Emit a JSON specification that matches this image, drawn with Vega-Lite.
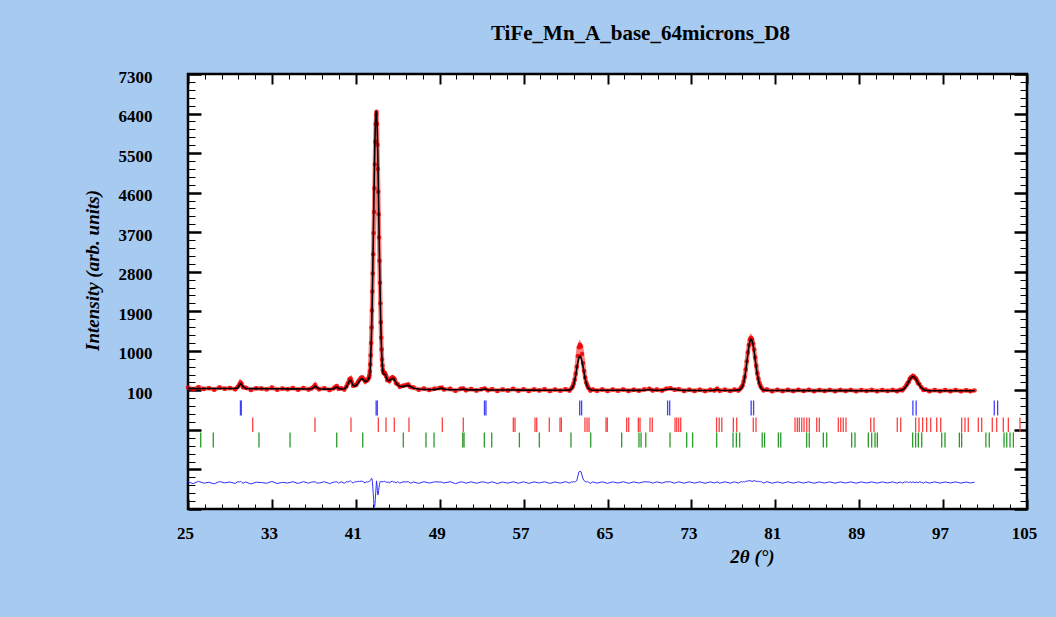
{
  "$schema": "https://vega.github.io/schema/vega-lite/v6.json",
  "width": 839,
  "height": 435,
  "autosize": {"type": "none"},
  "padding": {"left": 188, "top": 74, "right": 29, "bottom": 108},
  "background": "#A6CAF0",
  "config": {"view": {"fill": "white", "stroke": "black", "strokeWidth": 2.5}},
  "title": {"text": "TiFe_Mn_A_base_64microns_D8", "font": "Liberation Serif", "fontSize": 21, "fontWeight": "bold", "color": "black", "anchor": "middle", "dx": 33, "offset": 24},
  "datasets": {
    "pat": [
      {"tt":25.0,"calc":145,"obs":163,"diff":-1982},{"tt":25.5,"calc":145,"obs":123,"diff":-2022},{"tt":26.0,"calc":144,"obs":174,"diff":-1970},{"tt":26.5,"calc":144,"obs":132,"diff":-2012},{"tt":27.0,"calc":143,"obs":151,"diff":-1992},{"tt":27.5,"calc":143,"obs":115,"diff":-2028},{"tt":28.0,"calc":142,"obs":167,"diff":-1975},{"tt":28.5,"calc":142,"obs":137,"diff":-2005},{"tt":29.0,"calc":141,"obs":155,"diff":-1986},{"tt":29.5,"calc":142,"obs":124,"diff":-2018},
      {"tt":29.75,"calc":160,"obs":182,"diff":-1978},{"tt":29.9,"calc":215,"obs":230,"diff":-1985},{"tt":30.0,"calc":250,"obs":278,"diff":-1972},{"tt":30.1,"calc":238,"obs":250,"diff":-1988},{"tt":30.25,"calc":185,"obs":170,"diff":-2015},{"tt":30.5,"calc":145,"obs":160,"diff":-1985},
      {"tt":31.0,"calc":140,"obs":110,"diff":-2030},{"tt":31.5,"calc":139,"obs":149,"diff":-1990},{"tt":32.0,"calc":139,"obs":142,"diff":-1997},{"tt":32.5,"calc":138,"obs":123,"diff":-2015},{"tt":33.0,"calc":137,"obs":164,"diff":-1973},{"tt":33.5,"calc":136,"obs":116,"diff":-2020},{"tt":34.0,"calc":136,"obs":142,"diff":-1994},{"tt":34.5,"calc":135,"obs":127,"diff":-2008},{"tt":35.0,"calc":134,"obs":154,"diff":-1980},{"tt":35.5,"calc":133,"obs":115,"diff":-2018},{"tt":36.0,"calc":132,"obs":154,"diff":-1978},{"tt":36.5,"calc":131,"obs":119,"diff":-2012},
      {"tt":36.8,"calc":135,"obs":150,"diff":-1985},{"tt":37.0,"calc":170,"obs":185,"diff":-1985},{"tt":37.12,"calc":200,"obs":222,"diff":-1978},{"tt":37.25,"calc":175,"obs":168,"diff":-2007},{"tt":37.5,"calc":135,"obs":125,"diff":-2010},{"tt":38.0,"calc":129,"obs":150,"diff":-1979},{"tt":38.5,"calc":128,"obs":106,"diff":-2022},
      {"tt":38.9,"calc":135,"obs":147,"diff":-1988},{"tt":39.05,"calc":165,"obs":180,"diff":-1985},{"tt":39.2,"calc":175,"obs":196,"diff":-1979},{"tt":39.35,"calc":150,"obs":138,"diff":-2012},{"tt":39.6,"calc":128,"obs":148,"diff":-1980},{"tt":39.9,"calc":135,"obs":120,"diff":-2015},
      {"tt":40.1,"calc":170,"obs":190,"diff":-1980},{"tt":40.25,"calc":245,"obs":262,"diff":-1983},{"tt":40.4,"calc":320,"obs":352,"diff":-1968},{"tt":40.5,"calc":330,"obs":368,"diff":-1962},{"tt":40.6,"calc":285,"obs":300,"diff":-1985},{"tt":40.75,"calc":215,"obs":205,"diff":-2010},{"tt":40.9,"calc":195,"obs":215,"diff":-1980},
      {"tt":41.05,"calc":215,"obs":230,"diff":-1985},{"tt":41.2,"calc":260,"obs":290,"diff":-1970},{"tt":41.35,"calc":315,"obs":342,"diff":-1973},{"tt":41.5,"calc":352,"obs":385,"diff":-1967},{"tt":41.62,"calc":362,"obs":392,"diff":-1970},{"tt":41.75,"calc":340,"obs":352,"diff":-1988},{"tt":41.9,"calc":308,"obs":300,"diff":-2008},
      {"tt":42.0,"calc":300,"obs":322,"diff":-1978},{"tt":42.1,"calc":318,"obs":330,"diff":-1988},{"tt":42.2,"calc":350,"obs":372,"diff":-1978},{"tt":42.26,"calc":380,"obs":398,"diff":-1982},{"tt":42.3,"calc":420,"obs":445,"diff":-1975},{"tt":42.34,"calc":500,"obs":530,"diff":-1970},{"tt":42.38,"calc":640,"obs":690,"diff":-1950},{"tt":42.42,"calc":840,"obs":900,"diff":-1940},{"tt":42.46,"calc":1100,"obs":1180,"diff":-1920},{"tt":42.5,"calc":1430,"obs":1530,"diff":-1900},
      {"tt":42.54,"calc":1830,"obs":1920,"diff":-1910},{"tt":42.58,"calc":2320,"obs":2350,"diff":-1970},{"tt":42.62,"calc":2860,"obs":2760,"diff":-2100},{"tt":42.66,"calc":3450,"obs":3200,"diff":-2250},{"tt":42.7,"calc":4070,"obs":3680,"diff":-2390},{"tt":42.74,"calc":4680,"obs":4160,"diff":-2520},{"tt":42.78,"calc":5260,"obs":4700,"diff":-2560},{"tt":42.82,"calc":5750,"obs":5240,"diff":-2510},{"tt":42.86,"calc":6140,"obs":5760,"diff":-2380},{"tt":42.9,"calc":6380,"obs":6160,"diff":-2220},
      {"tt":42.94,"calc":6460,"obs":6370,"diff":-2090},{"tt":42.98,"calc":6400,"obs":6440,"diff":-1960},{"tt":43.02,"calc":6210,"obs":6160,"diff":-2050},{"tt":43.06,"calc":5870,"obs":5690,"diff":-2180},{"tt":43.1,"calc":5420,"obs":5140,"diff":-2280},{"tt":43.14,"calc":4880,"obs":4620,"diff":-2260},{"tt":43.18,"calc":4290,"obs":4110,"diff":-2180},{"tt":43.22,"calc":3680,"obs":3580,"diff":-2100},{"tt":43.26,"calc":3090,"obs":3050,"diff":-2040},{"tt":43.3,"calc":2540,"obs":2550,"diff":-1990},
      {"tt":43.34,"calc":2050,"obs":2080,"diff":-1970},{"tt":43.38,"calc":1630,"obs":1650,"diff":-1980},{"tt":43.42,"calc":1280,"obs":1300,"diff":-1980},{"tt":43.46,"calc":1000,"obs":1030,"diff":-1970},{"tt":43.5,"calc":790,"obs":800,"diff":-1990},{"tt":43.54,"calc":640,"obs":668,"diff":-1972},{"tt":43.58,"calc":540,"obs":560,"diff":-1980},{"tt":43.64,"calc":480,"obs":505,"diff":-1975},{"tt":43.7,"calc":460,"obs":492,"diff":-1968},{"tt":43.76,"calc":465,"obs":495,"diff":-1970},
      {"tt":43.82,"calc":455,"obs":470,"diff":-1985},{"tt":43.9,"calc":400,"obs":420,"diff":-1980},{"tt":44.0,"calc":345,"obs":338,"diff":-2007},{"tt":44.1,"calc":320,"obs":342,"diff":-1978},{"tt":44.2,"calc":325,"obs":315,"diff":-2010},{"tt":44.35,"calc":350,"obs":372,"diff":-1978},{"tt":44.5,"calc":370,"obs":398,"diff":-1972},{"tt":44.6,"calc":368,"obs":380,"diff":-1988},{"tt":44.7,"calc":335,"obs":352,"diff":-1983},{"tt":44.85,"calc":270,"obs":262,"diff":-2008},
      {"tt":45.0,"calc":218,"obs":240,"diff":-1978},{"tt":45.2,"calc":192,"obs":180,"diff":-2012},{"tt":45.5,"calc":186,"obs":205,"diff":-1981},{"tt":45.8,"calc":205,"obs":220,"diff":-1985},{"tt":46.0,"calc":212,"obs":235,"diff":-1977},{"tt":46.2,"calc":190,"obs":178,"diff":-2012},{"tt":46.5,"calc":150,"obs":165,"diff":-1985},{"tt":47.0,"calc":132,"obs":115,"diff":-2017},{"tt":47.5,"calc":120,"obs":142,"diff":-1978},
      {"tt":48.0,"calc":118,"obs":108,"diff":-2010},{"tt":48.5,"calc":117,"obs":135,"diff":-1982},{"tt":49.0,"calc":140,"obs":155,"diff":-1985},{"tt":49.2,"calc":150,"obs":162,"diff":-1988},{"tt":49.4,"calc":128,"obs":120,"diff":-2008},{"tt":50.0,"calc":114,"obs":135,"diff":-1979},{"tt":50.5,"calc":113,"obs":90,"diff":-2023},{"tt":51.0,"calc":118,"obs":136,"diff":-1982},{"tt":51.25,"calc":130,"obs":140,"diff":-1990},{"tt":51.5,"calc":116,"obs":102,"diff":-2014},
      {"tt":52.0,"calc":111,"obs":130,"diff":-1981},{"tt":52.5,"calc":110,"obs":95,"diff":-2015},{"tt":53.0,"calc":112,"obs":128,"diff":-1984},{"tt":53.3,"calc":130,"obs":142,"diff":-1988},{"tt":53.6,"calc":112,"obs":100,"diff":-2012},{"tt":54.0,"calc":109,"obs":128,"diff":-1981},{"tt":54.5,"calc":108,"obs":88,"diff":-2020},{"tt":55.0,"calc":108,"obs":122,"diff":-1986},{"tt":55.5,"calc":107,"obs":95,"diff":-2012},{"tt":56.0,"calc":115,"obs":135,"diff":-1980},
      {"tt":56.5,"calc":106,"obs":92,"diff":-2014},{"tt":57.0,"calc":106,"obs":125,"diff":-1981},{"tt":57.5,"calc":105,"obs":88,"diff":-2017},{"tt":58.0,"calc":105,"obs":122,"diff":-1983},{"tt":58.5,"calc":104,"obs":96,"diff":-2008},{"tt":59.0,"calc":104,"obs":124,"diff":-1980},{"tt":59.5,"calc":104,"obs":87,"diff":-2017},{"tt":60.0,"calc":103,"obs":118,"diff":-1985},{"tt":60.5,"calc":103,"obs":92,"diff":-2011},{"tt":61.0,"calc":103,"obs":124,"diff":-1979},
      {"tt":61.37,"calc":105,"obs":96,"diff":-2009},{"tt":61.57,"calc":133,"obs":150,"diff":-1983},{"tt":61.67,"calc":168,"obs":182,"diff":-1986},{"tt":61.77,"calc":230,"obs":252,"diff":-1978},{"tt":61.87,"calc":325,"obs":340,"diff":-1985},{"tt":61.97,"calc":450,"obs":478,"diff":-1972},{"tt":62.07,"calc":595,"obs":640,"diff":-1955},{"tt":62.17,"calc":735,"obs":880,"diff":-1855},{"tt":62.27,"calc":840,"obs":1080,"diff":-1760},{"tt":62.37,"calc":880,"obs":1140,"diff":-1740},
      {"tt":62.47,"calc":850,"obs":1100,"diff":-1750},{"tt":62.57,"calc":760,"obs":930,"diff":-1830},{"tt":62.67,"calc":635,"obs":720,"diff":-1915},{"tt":62.77,"calc":495,"obs":540,"diff":-1955},{"tt":62.87,"calc":365,"obs":392,"diff":-1973},{"tt":62.97,"calc":265,"obs":280,"diff":-1985},{"tt":63.07,"calc":195,"obs":218,"diff":-1977},{"tt":63.17,"calc":150,"obs":162,"diff":-1988},{"tt":63.37,"calc":115,"obs":98,"diff":-2017},{"tt":63.6,"calc":104,"obs":122,"diff":-1982},
      {"tt":64.0,"calc":102,"obs":90,"diff":-2012},{"tt":64.5,"calc":102,"obs":121,"diff":-1981},{"tt":65.0,"calc":102,"obs":86,"diff":-2016},{"tt":65.5,"calc":101,"obs":118,"diff":-1983},{"tt":66.0,"calc":101,"obs":92,"diff":-2009},{"tt":66.5,"calc":101,"obs":122,"diff":-1979},{"tt":67.0,"calc":100,"obs":85,"diff":-2015},{"tt":67.5,"calc":100,"obs":116,"diff":-1984},{"tt":68.0,"calc":100,"obs":91,"diff":-2009},{"tt":68.5,"calc":102,"obs":122,"diff":-1980},
      {"tt":69.0,"calc":120,"obs":135,"diff":-1985},{"tt":69.3,"calc":110,"obs":98,"diff":-2012},{"tt":69.7,"calc":100,"obs":118,"diff":-1982},{"tt":70.2,"calc":105,"obs":95,"diff":-2010},{"tt":70.6,"calc":118,"obs":138,"diff":-1980},{"tt":71.0,"calc":130,"obs":148,"diff":-1982},{"tt":71.4,"calc":125,"obs":112,"diff":-2013},{"tt":71.8,"calc":108,"obs":128,"diff":-1980},{"tt":72.3,"calc":99,"obs":86,"diff":-2013},{"tt":72.8,"calc":99,"obs":117,"diff":-1982},
      {"tt":73.3,"calc":98,"obs":88,"diff":-2010},{"tt":73.8,"calc":98,"obs":116,"diff":-1982},{"tt":74.3,"calc":98,"obs":84,"diff":-2014},{"tt":74.8,"calc":98,"obs":115,"diff":-1983},{"tt":75.2,"calc":105,"obs":98,"diff":-2007},{"tt":75.45,"calc":118,"obs":135,"diff":-1983},{"tt":75.7,"calc":102,"obs":90,"diff":-2012},{"tt":76.2,"calc":97,"obs":116,"diff":-1981},{"tt":76.7,"calc":97,"obs":85,"diff":-2012},{"tt":77.1,"calc":100,"obs":118,"diff":-1982},
      {"tt":77.48,"calc":105,"obs":96,"diff":-2009},{"tt":77.68,"calc":125,"obs":140,"diff":-1985},{"tt":77.78,"calc":152,"obs":178,"diff":-1974},{"tt":77.88,"calc":199,"obs":210,"diff":-1989},{"tt":77.98,"calc":276,"obs":300,"diff":-1976},{"tt":78.08,"calc":391,"obs":405,"diff":-1986},{"tt":78.18,"calc":544,"obs":575,"diff":-1969},{"tt":78.28,"calc":728,"obs":760,"diff":-1968},{"tt":78.38,"calc":921,"obs":960,"diff":-1961},{"tt":78.48,"calc":1095,"obs":1135,"diff":-1960},
      {"tt":78.58,"calc":1216,"obs":1260,"diff":-1956},{"tt":78.68,"calc":1260,"obs":1300,"diff":-1960},{"tt":78.78,"calc":1235,"obs":1262,"diff":-1973},{"tt":78.88,"calc":1135,"obs":1168,"diff":-1967},{"tt":78.98,"calc":985,"obs":1030,"diff":-1955},{"tt":79.08,"calc":810,"obs":850,"diff":-1960},{"tt":79.18,"calc":630,"obs":662,"diff":-1968},{"tt":79.28,"calc":470,"obs":490,"diff":-1980},{"tt":79.38,"calc":340,"obs":372,"diff":-1968},{"tt":79.48,"calc":245,"obs":270,"diff":-1975},
      {"tt":79.58,"calc":180,"obs":205,"diff":-1975},{"tt":79.68,"calc":140,"obs":160,"diff":-1980},{"tt":79.88,"calc":110,"obs":100,"diff":-2010},{"tt":80.2,"calc":100,"obs":122,"diff":-1978},{"tt":80.7,"calc":96,"obs":82,"diff":-2014},{"tt":81.2,"calc":96,"obs":112,"diff":-1984},{"tt":81.7,"calc":96,"obs":84,"diff":-2012},{"tt":82.2,"calc":95,"obs":114,"diff":-1981},{"tt":82.7,"calc":95,"obs":83,"diff":-2012},{"tt":83.2,"calc":95,"obs":112,"diff":-1983},
      {"tt":83.7,"calc":95,"obs":86,"diff":-2009},{"tt":84.2,"calc":94,"obs":113,"diff":-1981},{"tt":84.7,"calc":94,"obs":80,"diff":-2014},{"tt":85.2,"calc":94,"obs":110,"diff":-1984},{"tt":85.7,"calc":94,"obs":85,"diff":-2009},{"tt":86.2,"calc":93,"obs":111,"diff":-1982},{"tt":86.7,"calc":93,"obs":80,"diff":-2013},{"tt":87.2,"calc":93,"obs":110,"diff":-1983},{"tt":87.7,"calc":93,"obs":84,"diff":-2009},{"tt":88.2,"calc":93,"obs":111,"diff":-1982},
      {"tt":88.7,"calc":92,"obs":79,"diff":-2013},{"tt":89.2,"calc":92,"obs":108,"diff":-1984},{"tt":89.7,"calc":92,"obs":85,"diff":-2007},{"tt":90.2,"calc":92,"obs":110,"diff":-1982},{"tt":90.7,"calc":92,"obs":80,"diff":-2012},{"tt":91.2,"calc":92,"obs":108,"diff":-1984},{"tt":91.7,"calc":92,"obs":84,"diff":-2008},{"tt":92.2,"calc":92,"obs":110,"diff":-1982},{"tt":92.6,"calc":94,"obs":82,"diff":-2012},{"tt":92.92,"calc":98,"obs":112,"diff":-1986},
      {"tt":93.12,"calc":112,"obs":102,"diff":-2010},{"tt":93.32,"calc":146,"obs":162,"diff":-1984},{"tt":93.52,"calc":210,"obs":222,"diff":-1988},{"tt":93.62,"calc":252,"obs":270,"diff":-1982},{"tt":93.72,"calc":297,"obs":290,"diff":-2007},{"tt":93.82,"calc":341,"obs":360,"diff":-1981},{"tt":93.92,"calc":378,"obs":392,"diff":-1986},{"tt":94.02,"calc":403,"obs":400,"diff":-2003},{"tt":94.12,"calc":412,"obs":430,"diff":-1982},{"tt":94.22,"calc":405,"obs":415,"diff":-1990},
      {"tt":94.32,"calc":385,"obs":380,"diff":-2005},{"tt":94.42,"calc":350,"obs":368,"diff":-1982},{"tt":94.52,"calc":310,"obs":318,"diff":-1992},{"tt":94.62,"calc":268,"obs":262,"diff":-2006},{"tt":94.72,"calc":228,"obs":245,"diff":-1983},{"tt":94.92,"calc":162,"obs":170,"diff":-1992},{"tt":95.12,"calc":122,"obs":110,"diff":-2012},{"tt":95.32,"calc":102,"obs":118,"diff":-1984},{"tt":95.7,"calc":92,"obs":82,"diff":-2010},{"tt":96.2,"calc":91,"obs":108,"diff":-1983},
      {"tt":96.7,"calc":91,"obs":80,"diff":-2011},{"tt":97.2,"calc":91,"obs":106,"diff":-1985},{"tt":97.7,"calc":90,"obs":82,"diff":-2008},{"tt":98.2,"calc":90,"obs":107,"diff":-1983},{"tt":98.7,"calc":90,"obs":79,"diff":-2011},{"tt":99.2,"calc":90,"obs":104,"diff":-1986},{"tt":99.6,"calc":90,"obs":82,"diff":-2008},{"tt":100.0,"calc":90,"obs":100,"diff":-1990}
    ],
    "phaseA": [
      {"pos":30.0},{"pos":30.08},{"pos":42.94},{"pos":43.05},{"pos":53.27},{"pos":53.41},{"pos":62.35},{"pos":62.53},{"pos":70.73},{"pos":70.93},{"pos":78.7},{"pos":78.93},{"pos":94.12},{"pos":94.43},{"pos":101.88},{"pos":102.2}
    ],
    "phaseB": [
      {"pos":31.17},{"pos":37.11},{"pos":40.54},{"pos":43.15},{"pos":43.88},{"pos":44.67},{"pos":46.07},{"pos":49.25},{"pos":51.25},{"pos":56.02},{"pos":56.18},{"pos":58.09},{"pos":58.25},{"pos":59.45},{"pos":60.47},{"pos":60.6},{"pos":62.85},{"pos":63.05},{"pos":63.24},{"pos":64.86},{"pos":64.98},{"pos":66.83},{"pos":67.02},{"pos":67.94},{"pos":68.1},{"pos":69.05},{"pos":69.27},{"pos":71.44},{"pos":71.6},{"pos":71.79},{"pos":71.98},{"pos":75.4},{"pos":75.65},{"pos":75.9},{"pos":77.0},{"pos":77.32},{"pos":78.9},{"pos":79.16},{"pos":82.88},{"pos":83.1},{"pos":83.29},{"pos":83.52},{"pos":83.74},{"pos":84.0},{"pos":84.24},{"pos":84.95},{"pos":85.2},{"pos":87.01},{"pos":87.24},{"pos":87.48},{"pos":87.74},{"pos":90.1},{"pos":90.41},{"pos":92.63},{"pos":92.96},{"pos":94.38},{"pos":94.7},{"pos":95.05},{"pos":95.43},{"pos":95.82},{"pos":96.39},{"pos":96.77},{"pos":98.77},{"pos":99.09},{"pos":99.4},{"pos":100.36},{"pos":100.68},{"pos":101.69},{"pos":102.11},{"pos":102.74},{"pos":103.22},{"pos":104.33}
    ],
    "phaseC": [
      {"pos":26.21},{"pos":27.41},{"pos":31.77},{"pos":34.73},{"pos":39.18},{"pos":41.66},{"pos":45.53},{"pos":47.69},{"pos":48.46},{"pos":51.2},{"pos":51.32},{"pos":53.26},{"pos":53.96},{"pos":56.6},{"pos":58.5},{"pos":61.52},{"pos":63.4},{"pos":66.35},{"pos":68.0},{"pos":68.2},{"pos":68.65},{"pos":70.96},{"pos":72.55},{"pos":73.12},{"pos":75.41},{"pos":76.97},{"pos":77.29},{"pos":77.6},{"pos":79.75},{"pos":79.98},{"pos":81.29},{"pos":81.52},{"pos":83.99},{"pos":84.24},{"pos":85.58},{"pos":85.9},{"pos":88.28},{"pos":88.6},{"pos":89.87},{"pos":90.19},{"pos":90.51},{"pos":90.73},{"pos":94.1},{"pos":94.38},{"pos":94.64},{"pos":94.96},{"pos":96.87},{"pos":97.18},{"pos":98.55},{"pos":98.77},{"pos":101.08},{"pos":101.4},{"pos":102.81},{"pos":103.07},{"pos":103.38},{"pos":103.7}
    ]
  },
  "layer": [
    {
      "data": {"name": "pat"},
      "mark": {"type": "line", "color": "#ff0000", "strokeWidth": 4.5, "opacity": 0.5},
      "encoding": {
        "x": {"field": "tt", "type": "quantitative", "scale": {"domain": [25, 105], "nice": false, "zero": false},
          "axis": {"orient": "bottom", "values": [25,26.6,28.2,29.8,31.4,33,34.6,36.2,37.8,39.4,41,42.6,44.2,45.8,47.4,49,50.6,52.2,53.8,55.4,57,58.6,60.2,61.8,63.4,65,66.6,68.2,69.8,71.4,73,74.6,76.2,77.8,79.4,81,82.6,84.2,85.8,87.4,89,90.6,92.2,93.8,95.4,97,98.6,100.2,101.8,103.4,105],
            "domain": false, "grid": false, "ticks": true, "tickColor": "black",
            "tickSize": {"condition": {"test": "abs((datum.value-25)/8-round((datum.value-25)/8))<0.01", "value": -10}, "value": -5},
            "tickWidth": {"condition": {"test": "abs((datum.value-25)/8-round((datum.value-25)/8))<0.01", "value": 2}, "value": 1},
            "labelExpr": "abs((datum.value-25)/8-round((datum.value-25)/8))<0.01 ? format(datum.value,'d') : ''",
            "labelFont": "Liberation Serif", "labelFontSize": 17, "labelFontWeight": "bold", "labelColor": "black",
            "labelPadding": 34, "labelBaseline": "middle", "labelFlush": false, "labelOverlap": false, "labelOffset": -3,
            "title": "2θ (°)", "titleFont": "Liberation Serif", "titleFontSize": 19, "titleFontWeight": "bold", "titleFontStyle": "italic", "titleColor": "black",
            "titleX": 564, "titleY": 47, "titleAlign": "center", "titleBaseline": "middle"}},
        "y": {"field": "obs", "type": "quantitative", "scale": {"domain": [-2600, 7300], "nice": false, "zero": false},
          "axis": {"orient": "left", "values": [-2600,-2420,-2240,-2060,-1880,-1700,-1520,-1340,-1160,-980,-800,-620,-440,-260,-80,100,280,460,640,820,1000,1180,1360,1540,1720,1900,2080,2260,2440,2620,2800,2980,3160,3340,3520,3700,3880,4060,4240,4420,4600,4780,4960,5140,5320,5500,5680,5860,6040,6220,6400,6580,6760,6940,7120,7300],
            "domain": false, "grid": false, "ticks": true, "tickColor": "black",
            "tickSize": {"condition": {"test": "abs((datum.value-100)/900-round((datum.value-100)/900))<0.01", "value": -13}, "value": -7},
            "tickWidth": {"condition": {"test": "abs((datum.value-100)/900-round((datum.value-100)/900))<0.01", "value": 2.5}, "value": 1},
            "labelExpr": "datum.value >= 100 && abs((datum.value-100)/900-round((datum.value-100)/900))<0.01 ? format(datum.value,'d') : ''",
            "labelFont": "Liberation Serif", "labelFontSize": 17, "labelFontWeight": "bold", "labelColor": "black",
            "labelPadding": 49, "labelBaseline": "middle", "labelFlush": false, "labelOverlap": false, "labelOffset": 3,
            "title": "Intensity (arb. units)", "titleFont": "Liberation Serif", "titleFontSize": 19, "titleFontWeight": "bold", "titleFontStyle": "italic", "titleColor": "black",
            "titleX": -96, "titleY": 196, "titleAngle": 270, "titleAlign": "center", "titleBaseline": "middle"}}
      }
    },
    {
      "data": {"name": "pat"},
      "mark": {"type": "circle", "color": "#ee0000", "size": 20, "opacity": 0.85},
      "encoding": {
        "x": {"field": "tt", "type": "quantitative", "axis": null},
        "y": {"field": "obs", "type": "quantitative", "axis": null}
      }
    },
    {
      "data": {"name": "pat"},
      "mark": {"type": "line", "color": "black", "strokeWidth": 1.6},
      "encoding": {
        "x": {"field": "tt", "type": "quantitative",
          "axis": {"orient": "top", "values": [25,26.6,28.2,29.8,31.4,33,34.6,36.2,37.8,39.4,41,42.6,44.2,45.8,47.4,49,50.6,52.2,53.8,55.4,57,58.6,60.2,61.8,63.4,65,66.6,68.2,69.8,71.4,73,74.6,76.2,77.8,79.4,81,82.6,84.2,85.8,87.4,89,90.6,92.2,93.8,95.4,97,98.6,100.2,101.8,103.4,105],
            "domain": false, "grid": false, "labels": false, "title": null, "tickColor": "black",
            "tickSize": {"condition": {"test": "abs((datum.value-25)/8-round((datum.value-25)/8))<0.01", "value": -10}, "value": -5},
            "tickWidth": {"condition": {"test": "abs((datum.value-25)/8-round((datum.value-25)/8))<0.01", "value": 2}, "value": 1}}},
        "y": {"field": "calc", "type": "quantitative",
          "axis": {"orient": "right", "values": [-2600,-2420,-2240,-2060,-1880,-1700,-1520,-1340,-1160,-980,-800,-620,-440,-260,-80,100,280,460,640,820,1000,1180,1360,1540,1720,1900,2080,2260,2440,2620,2800,2980,3160,3340,3520,3700,3880,4060,4240,4420,4600,4780,4960,5140,5320,5500,5680,5860,6040,6220,6400,6580,6760,6940,7120,7300],
            "domain": false, "grid": false, "labels": false, "title": null, "tickColor": "black",
            "tickSize": {"condition": {"test": "abs((datum.value-100)/900-round((datum.value-100)/900))<0.01", "value": -13}, "value": -7},
            "tickWidth": {"condition": {"test": "abs((datum.value-100)/900-round((datum.value-100)/900))<0.01", "value": 2.5}, "value": 1}}}
      }
    },
    {
      "data": {"name": "pat"},
      "mark": {"type": "line", "color": "#3030ff", "strokeWidth": 1},
      "encoding": {
        "x": {"field": "tt", "type": "quantitative", "axis": null},
        "y": {"field": "diff", "type": "quantitative", "axis": null}
      }
    },
    {
      "data": {"name": "phaseA"},
      "mark": {"type": "rule", "color": "#4040ff", "strokeWidth": 1.3},
      "encoding": {
        "x": {"field": "pos", "type": "quantitative", "axis": null},
        "y": {"datum": -130, "type": "quantitative", "axis": null},
        "y2": {"datum": -470}
      }
    },
    {
      "data": {"name": "phaseB"},
      "mark": {"type": "rule", "color": "#ff4040", "strokeWidth": 1.3},
      "encoding": {
        "x": {"field": "pos", "type": "quantitative", "axis": null},
        "y": {"datum": -515, "type": "quantitative", "axis": null},
        "y2": {"datum": -850}
      }
    },
    {
      "data": {"name": "phaseC"},
      "mark": {"type": "rule", "color": "#2a9a2a", "strokeWidth": 1.3},
      "encoding": {
        "x": {"field": "pos", "type": "quantitative", "axis": null},
        "y": {"datum": -860, "type": "quantitative", "axis": null},
        "y2": {"datum": -1200}
      }
    }
  ],
  "resolve": {"axis": {"x": "independent", "y": "independent"}}
}
